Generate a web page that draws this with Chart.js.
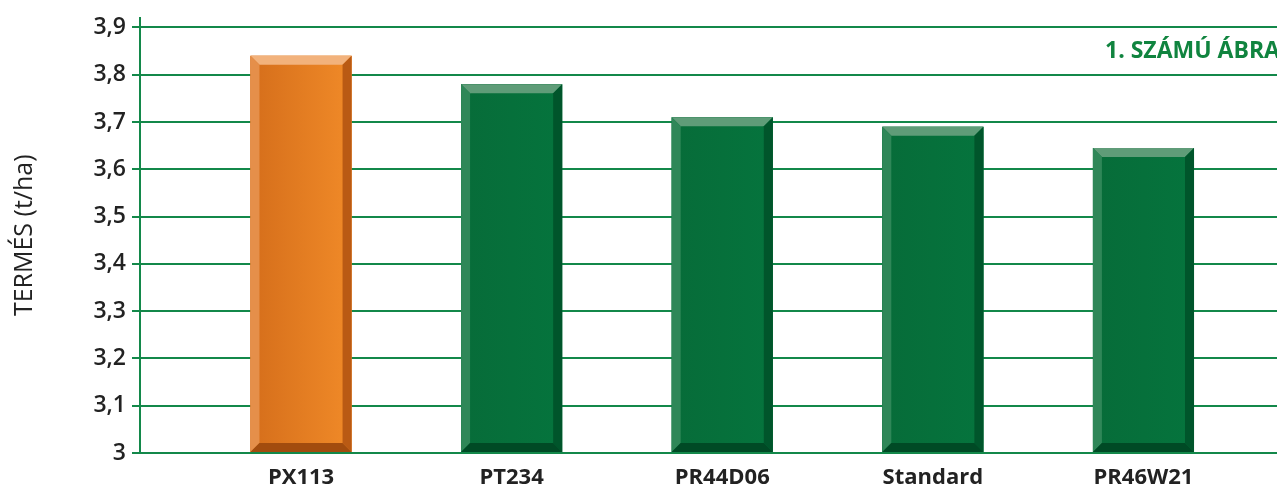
<!DOCTYPE html>
<html>
<head>
<meta charset="utf-8">
<script src="https://cdn.jsdelivr.net/npm/chart.js@4.4.1/dist/chart.umd.min.js"></script>
<style>
  html, body { margin: 0; padding: 0; background: #fff; overflow: hidden; }
  #wrap { position: relative; width: 1277px; height: 485px; overflow: hidden; }
  #cim {
    position: absolute; left: 1105px; top: 33px;
    font-family: 'Open Sans', sans-serif; font-weight: 700; font-size: 23px;
    color: #10843f; white-space: nowrap;
  }
</style>
</head>
<body>
<div id="wrap">
  <canvas id="grafik" width="1277" height="485"></canvas>
  <div id="cim">1. SZÁMÚ ÁBRA</div>
</div>
<script>
const fajtak = ['PX113', 'PT234', 'PR44D06', 'Standard', 'PR46W21'];
const termes = [3.84, 3.78, 3.71, 3.69, 3.645];
const yTickek = [3, 3.1, 3.2, 3.3, 3.4, 3.5, 3.6, 3.7, 3.8, 3.9];

const ZOLD = '#13884a';

// szinek oszloponkent: [lap, felso, bal, jobb, also]
const narancs = ['#e07a20', '#f2b27c', '#e58f4a', '#b95a14', '#a24c0e'];
const zold = ['#06703b', '#5f9c78', '#2f8758', '#00552b', '#004a25'];

const keret = {
    id: 'keret',
    afterDatasetsDraw(chart) {
        const ctx = chart.ctx;
        const meta = chart.getDatasetMeta(0);
        meta.data.forEach((bar, i) => {
            const c = i === 0 ? narancs : zold;
            const w = bar.width;
            const l = bar.x - w / 2, r = bar.x + w / 2;
            const t = bar.y, b = Math.min(bar.base, chart.chartArea.bottom);
            const s = 9;
            ctx.save();
            // lap
            const g = ctx.createLinearGradient(l, 0, r, 0);
            if (i === 0) {
                g.addColorStop(0, '#d56e1b');
                g.addColorStop(1, '#f08a28');
            } else {
                g.addColorStop(0, '#076c39');
                g.addColorStop(1, '#05743d');
            }
            ctx.fillStyle = g;
            ctx.fillRect(l, t, w, b - t);
            const poly = (pts, col) => {
                ctx.beginPath();
                ctx.moveTo(pts[0][0], pts[0][1]);
                for (let k = 1; k < pts.length; k++) ctx.lineTo(pts[k][0], pts[k][1]);
                ctx.closePath();
                ctx.fillStyle = col;
                ctx.fill();
            };
            poly([[l, t], [r, t], [r - s, t + s], [l + s, t + s]], c[1]);
            poly([[l, t], [l + s, t + s], [l + s, b - s], [l, b]], c[2]);
            poly([[r, t], [r, b], [r - s, b - s], [r - s, t + s]], c[3]);
            poly([[l, b], [l + s, b - s], [r - s, b - s], [r, b]], c[4]);
            ctx.restore();
        });
    }
};

const ctx = document.getElementById('grafik').getContext('2d');
new Chart(ctx, {
    type: 'bar',
    data: {
        datasets: [{
            data: termes.map((v, i) => ({ x: i + 1, y: v })),
            base: 3,
            backgroundColor: fajtak.map((f, i) => i === 0 ? narancs[0] : zold[0]),
            borderWidth: 0,
            barPercentage: 0.48,
            categoryPercentage: 1
        }]
    },
    options: {
        responsive: false,
        animation: false,
        layout: { padding: { top: 15, right: 0, left: 0, bottom: 0 } },
        plugins: { legend: { display: false }, tooltip: { enabled: false } },
        scales: {
            x: {
                type: 'linear',
                offset: false,
                min: 0.2355,
                max: 5.634,
                grid: { display: false },
                border: { display: false },
                afterFit: s => { s.height = 32; },
                afterBuildTicks: s => { s.ticks = fajtak.map((f, i) => ({ value: i + 1 })); },
                ticks: {
                    autoSkip: false,
                    maxRotation: 0,
                    padding: 4,
                    color: '#222',
                    font: { family: 'Open Sans', size: 22, weight: 'bold' },
                    callback: v => fajtak[Math.round(v) - 1] || ''
                }
            },
            y: {
                min: 3,
                max: 3.921,
                afterFit: s => { s.width = 140; },
                afterBuildTicks: s => { s.ticks = yTickek.map(v => ({ value: v })); },
                grid: { color: ZOLD, lineWidth: 2, tickLength: 8 },
                border: { color: ZOLD, width: 2 },
                ticks: {
                    padding: 6,
                    color: '#222',
                    font: { family: 'Open Sans', size: 23, weight: '600', lineHeight: 1 },
                    callback: v => v === 3 ? '3' : v.toFixed(1).replace('.', ',')
                },
                title: {
                    display: true,
                    text: 'TERMÉS (t/ha)',
                    color: '#222',
                    font: { family: 'Open Sans', size: 25 },
                    padding: { top: 10, bottom: 0 }
                }
            }
        }
    },
    plugins: [keret]
});
</script>
</body>
</html>
